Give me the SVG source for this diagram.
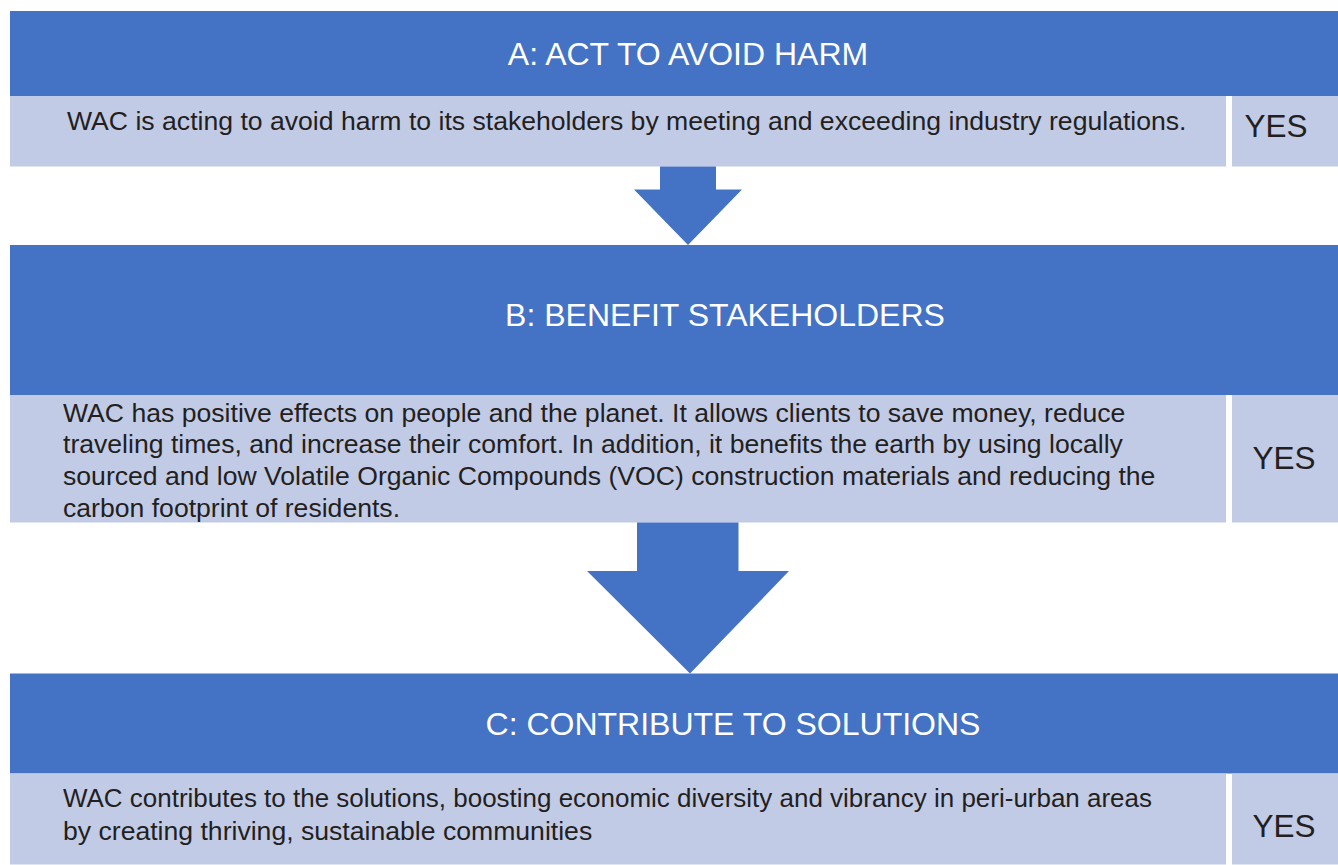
<svg xmlns="http://www.w3.org/2000/svg" width="1338" height="865" viewBox="0 0 1338 865">
<style>
.hdr{fill:#4472C4}
.row{fill:#C2CBE6}
.arrow{fill:#4472C4}
.title{font-family:"Liberation Sans",Arial,sans-serif;font-size:32px;fill:#FFFFFF;text-anchor:middle}
.body{font-family:"Liberation Sans",Arial,sans-serif;font-size:26.6px;fill:#231F20}
.yes{font-family:"Liberation Sans",Arial,sans-serif;font-size:31.5px;fill:#231F20;text-anchor:middle}
</style>
<rect x="0" y="0" width="1338" height="865" fill="#FFFFFF"/>
<g id="nodeA">
<rect class="hdr" x="10" y="11" width="1328" height="85"/>
<text class="title" x="688" y="65">A: ACT TO AVOID HARM</text>
<rect class="row" x="10" y="96" width="1216" height="70.5"/>
<text class="body" x="67" y="130">WAC is acting to avoid harm to its stakeholders by meeting and exceeding industry regulations.</text>
<rect class="row" x="1232" y="96" width="106" height="70.5"/>
<text class="yes" x="1276" y="137">YES</text>
</g>
<g id="nodeB">
<rect class="hdr" x="10" y="245" width="1328" height="150"/>
<text class="title" x="725" y="325.5">B: BENEFIT STAKEHOLDERS</text>
<rect class="row" x="10" y="395" width="1216" height="127.5"/>
<text class="body" x="63" y="421.5">WAC has positive effects on people and the planet. It allows clients to save money, reduce</text>
<text class="body" x="63" y="453.3">traveling times, and increase their comfort. In addition, it benefits the earth by using locally</text>
<text class="body" x="63" y="485">sourced and low Volatile Organic Compounds (VOC) construction materials and reducing the</text>
<text class="body" x="63" y="516.7">carbon footprint of residents.</text>
<rect class="row" x="1232" y="395" width="106" height="127.5"/>
<text class="yes" x="1284" y="469">YES</text>
</g>
<g id="nodeC">
<rect class="hdr" x="10" y="673.5" width="1328" height="100"/>
<text class="title" x="733" y="735">C: CONTRIBUTE TO SOLUTIONS</text>
<rect class="row" x="10" y="773.5" width="1216" height="91"/>
<text class="body" x="63" y="806.7" textLength="1089" lengthAdjust="spacingAndGlyphs">WAC contributes to the solutions, boosting economic diversity and vibrancy in peri-urban areas</text>
<text class="body" x="63" y="840">by creating thriving, sustainable communities</text>
<rect class="row" x="1232" y="773.5" width="106" height="91"/>
<text class="yes" x="1284" y="836.5">YES</text>
</g>
<g id="connectors">
<polygon class="arrow" points="660,166.5 716,166.5 716,189.5 742,189.5 688,245 634,189.5 660,189.5"/>
<polygon class="arrow" points="637,522.5 738.5,522.5 738.5,571 789,571 690,673.5 587,571 637,571"/>
</g>
</svg>
